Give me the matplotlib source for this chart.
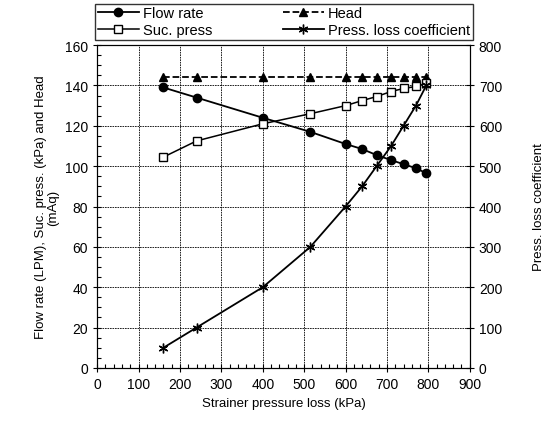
import matplotlib.pyplot as plt
from matplotlib.ticker import MultipleLocator

plt.rcParams['font.family'] = ['Liberation Sans', 'DejaVu Sans']
plt.rcParams['font.size'] = 10

# strainer pressure loss (kPa)
loss = [160, 240, 400, 515, 600, 640, 675, 710, 740, 770, 795]
flow_rate = [139, 134, 124, 117, 111, 108.5, 105.5, 103, 101, 99, 96.5]
head = [144, 144, 144, 144, 144, 144, 144, 144, 144, 144, 144]
suc_press = [104.5, 112.5, 121, 126, 130, 132.5, 134.5, 137, 138.5, 139.5, 141]
coeff = [50, 100, 200, 300, 400, 450, 500, 550, 600, 650, 700]

fig = plt.figure(figsize=(5.52, 4.27), dpi=100)
ax = fig.add_axes([0.176, 0.136, 0.675, 0.756])
ax2 = ax.twinx()

l1, = ax.plot(loss, flow_rate, '-o', color='black', lw=1.3, ms=6, label='Flow rate')
l3, = ax.plot(loss, head, '--^', color='black', lw=1.3, ms=5.5, label='Head')
l2, = ax.plot(loss, suc_press, '-s', color='black', lw=1.1, ms=6, mfc='white', label='Suc. press')
l4, = ax2.plot(loss, coeff, '-', color='black', lw=1.3, marker=(6, 2, 0), ms=7, label='Press. loss coefficient')

ax.set_xlim(0, 900)
ax.set_ylim(0, 160)
ax2.set_ylim(0, 800)
ax.xaxis.set_major_locator(MultipleLocator(100))
ax.xaxis.set_minor_locator(MultipleLocator(20))
ax.yaxis.set_major_locator(MultipleLocator(20))
ax.yaxis.set_minor_locator(MultipleLocator(5))
ax2.yaxis.set_major_locator(MultipleLocator(100))

ax.grid(True, which='major', ls=(0, (2, 1)), color='black', lw=0.6)
ax.tick_params(which='major', direction='inout', length=6, width=0.8)
ax.tick_params(which='minor', direction='in', length=3, width=0.8)
ax2.tick_params(which='major', direction='inout', length=6, width=0.8)

ax.set_xlabel('Strainer pressure loss (kPa)', fontsize=9.5)
ax.set_ylabel('Flow rate (LPM), Suc. press. (kPa) and Head\n(mAq)', fontsize=9.5, linespacing=1.0)
ax2.set_ylabel('Press. loss coefficient', fontsize=9.5, labelpad=22)

leg = fig.legend(handles=[l1, l2, l3, l4], ncol=2, loc='lower left',
                 bbox_to_anchor=(0.172, 0.905, 0.685, 0.085), mode='expand',
                 frameon=True, fancybox=False, edgecolor='black', fontsize=10.5,
                 borderpad=0.2, labelspacing=0.15, handlelength=2.8,
                 handletextpad=0.3, columnspacing=1.0, borderaxespad=0)
leg.get_frame().set_linewidth(1.0)

fig.savefig('out.png', dpi=100)
